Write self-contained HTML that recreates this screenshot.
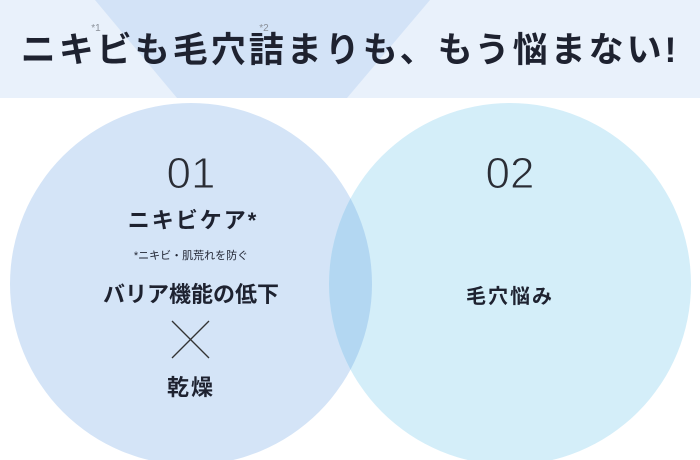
<!DOCTYPE html>
<html><head><meta charset="utf-8"><style>
body{margin:0;width:700px;height:460px;overflow:hidden;background:#fff;font-family:"Liberation Sans","Noto Sans CJK JP",sans-serif;}
svg{display:block}
</style></head><body>
<svg width="700" height="460" xmlns="http://www.w3.org/2000/svg">
<rect x="0" y="0" width="700" height="98" fill="#e9f1fb"/>
<polygon points="95,0 430,0 347,98 177,98" fill="#d3e3f7"/>
<circle cx="191" cy="284" r="181" fill="#d4e4f7"/>
<circle cx="510" cy="284" r="181" fill="#d4eef9"/>
<clipPath id="c"><circle cx="191" cy="284" r="181"/></clipPath>
<circle cx="510" cy="284" r="181" fill="#b3d7f2" clip-path="url(#c)"/>
<g font-family="Liberation Sans, Noto Sans CJK JP, sans-serif" text-anchor="middle" fill="#1e2230">
<text x="350" y="62" font-size="35" font-weight="bold" letter-spacing="3">ニキビも毛穴詰まりも、もう悩まない!</text>
<text x="96" y="31" font-size="10" fill="#8a9099">*1</text>
<text x="264" y="31" font-size="10" fill="#8a9099">*2</text>
<text x="191" y="188" font-size="44" fill="#2a2d35" stroke="#d4e4f7" stroke-width="1">01</text>
<text x="510" y="188" font-size="44" fill="#2a2d35" stroke="#d4eef9" stroke-width="1">02</text>
<text x="193" y="228" font-size="22" font-weight="bold" letter-spacing="2">ニキビケア*</text>
<text x="191" y="259" font-size="11">*ニキビ・肌荒れを防ぐ</text>
<text x="191" y="302" font-size="22" font-weight="bold">バリア機能の低下</text>
<text x="191" y="395" font-size="22" font-weight="bold" letter-spacing="2">乾燥</text>
<text x="510" y="303" font-size="20" font-weight="bold" letter-spacing="2">毛穴悩み</text>
</g>
<line x1="172" y1="321" x2="209" y2="358" stroke="#333" stroke-width="1.3"/>
<line x1="209" y1="321" x2="172" y2="358" stroke="#333" stroke-width="1.3"/>
</svg>
</body></html>
